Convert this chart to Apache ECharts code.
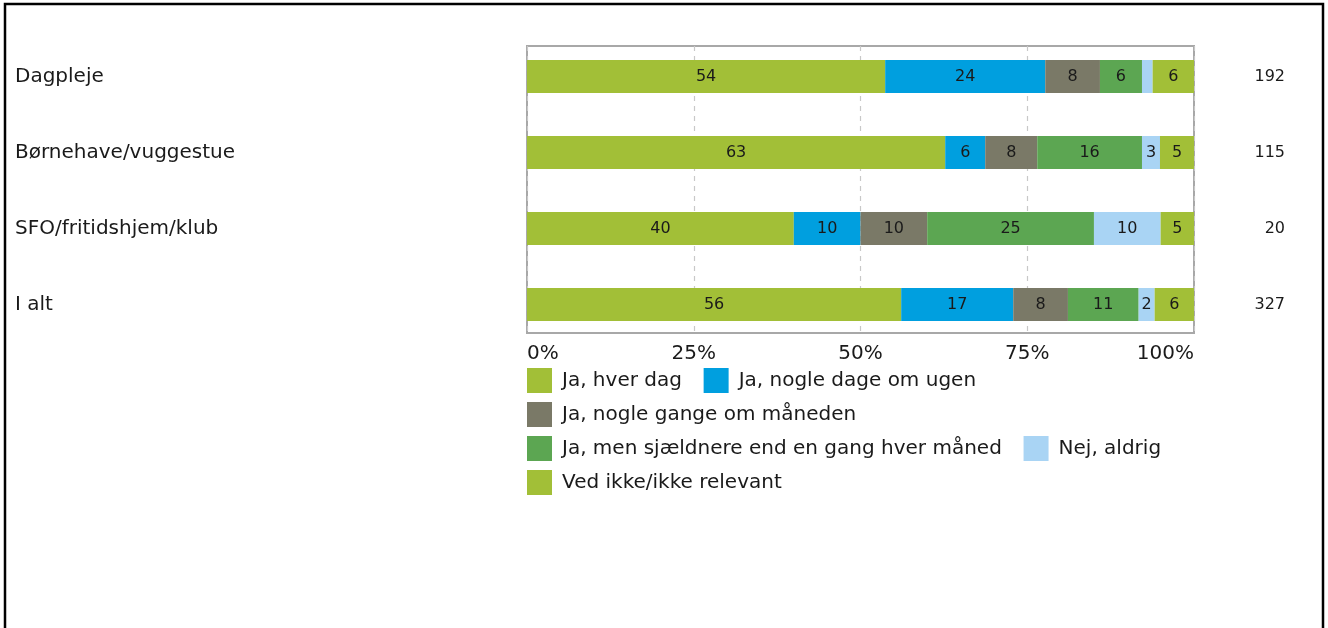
<!DOCTYPE html>
<html>
<head>
<meta charset="utf-8">
<script src="https://cdn.jsdelivr.net/npm/echarts@6/dist/echarts.min.js"></script>
<style>
html,body{margin:0;padding:0;background:#fff;}
#chart{width:1328px;height:628px;}
</style>
</head>
<body>
<div id="chart"></div>
<script>
const categories = ['Dagpleje', 'Børnehave/vuggestue', 'SFO/fritidshjem/klub', 'I alt'];
const nLabels = ['192', '115', '20', '327'];
const seriesNames = ['Ja, hver dag', 'Ja, nogle dage om ugen', 'Ja, nogle gange om måneden',
  'Ja, men sjældnere end en gang hver måned', 'Nej, aldrig', 'Ved ikke/ikke relevant'];
const hverDag = [53.7, 62.7, 40, 56.1];
const nogleDage = [24.0, 6.0, 10, 16.8];
const nogleGange = [8.2, 7.8, 10, 8.2];
const sjaeldnere = [6.3, 15.7, 25, 10.6];
const aldrig = [1.6, 2.7, 10, 2.4];
const vedIkke = [6.2, 5.1, 5, 5.9];
const xTicks = [0, 25, 50, 75, 100];
const colors = ['#a2bf37', '#009fdf', '#7a7967', '#5ca652', '#a9d4f4', '#a2bf37'];

const FONT = 'DejaVu Sans';
const allData = [hverDag, nogleDage, nogleGange, sjaeldnere, aldrig, vedIkke];

const chart = echarts.init(document.getElementById('chart'));
const option = {
  animation: false,
  backgroundColor: '#fff',
  textStyle: { fontFamily: FONT },
  graphic: [{
    type: 'rect', shape: { x: 5, y: 4, width: 1318, height: 700 },
    style: { fill: 'none', stroke: '#000', lineWidth: 2.5 }, z: 100
  }],
  grid: [
    { left: 527, right: 134, top: 46, height: 287, show: true, borderColor: '#a8a8a8', borderWidth: 2, backgroundColor: 'transparent' },
    { left: 527, right: 134, top: 38.5, height: 304 }
  ],
  legend: {
    left: 527, top: 368, width: 670, padding: 0,
    itemWidth: 25, itemHeight: 25, itemGap: 9,
    icon: 'rect',
    formatter: name => name + '  ',
    textStyle: { fontFamily: FONT, fontSize: 20, color: '#1a1a1a', padding: [0, 0, 0, 5] },
    data: seriesNames
  },
  xAxis: [
    {
      gridIndex: 0, type: 'value', min: xTicks[0], max: xTicks[xTicks.length - 1], interval: 25,
      axisLine: { show: false }, axisTick: { show: false },
      splitLine: { show: true, lineStyle: { color: '#c8c8c8', type: [5, 5], width: 1.2 } },
      axisLabel: { formatter: '{value}%', fontFamily: FONT, fontSize: 20, color: '#1a1a1a', margin: 11,
        alignMinLabel: 'left', alignMaxLabel: 'right' }
    },
    { gridIndex: 1, type: 'value', min: 0, max: 100, show: false }
  ],
  yAxis: [
    { gridIndex: 0, type: 'value', min: 0, max: 1, show: false },
    {
      gridIndex: 1, type: 'category', inverse: true, data: categories,
      axisLine: { show: false }, axisTick: { show: false }, splitLine: { show: false },
      axisLabel: { align: 'left', margin: 512, fontFamily: FONT, fontSize: 20, color: '#1a1a1a' }
    },
    {
      gridIndex: 1, type: 'category', inverse: true, position: 'right', data: nLabels,
      axisLine: { show: false }, axisTick: { show: false }, splitLine: { show: false },
      axisLabel: { align: 'right', margin: 91, fontFamily: FONT, fontSize: 16, color: '#1a1a1a' }
    }
  ],
  series: seriesNames.map((name, i) => ({
    name: name, type: 'bar', stack: 'all', xAxisIndex: 1, yAxisIndex: 1,
    barWidth: 33, itemStyle: { color: colors[i] },
    label: {
      show: true, position: 'inside', fontFamily: FONT, fontSize: 16, color: '#1a1a1a',
      formatter: p => (p.value < 2 ? '' : String(Math.round(p.value)))
    },
    data: allData[i]
  }))
};
chart.setOption(option);
</script>
</body>
</html>
